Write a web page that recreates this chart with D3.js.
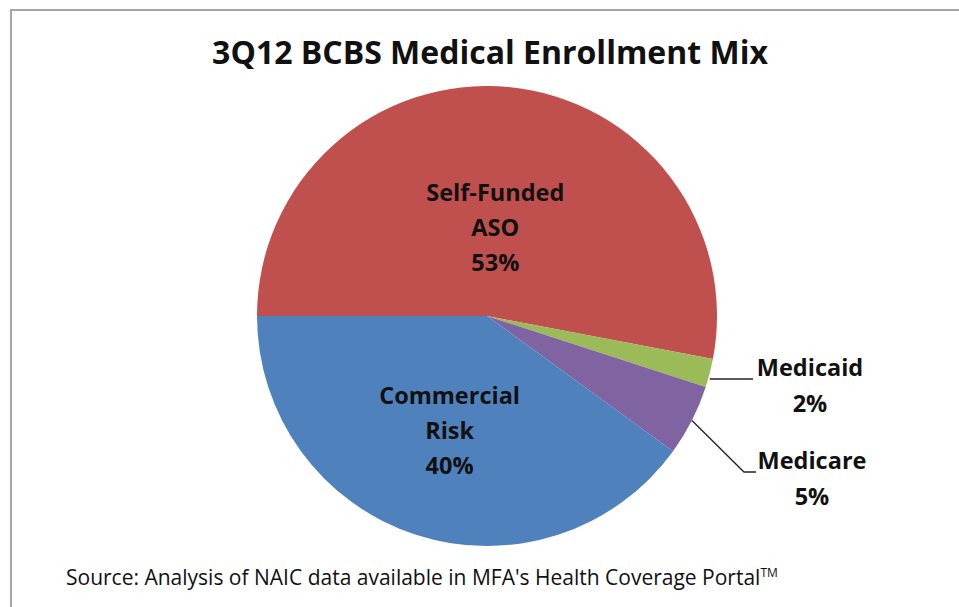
<!DOCTYPE html>
<html>
<head>
<meta charset="utf-8">
<script src="https://cdn.jsdelivr.net/npm/d3@7"></script>
<style>
  body { margin: 0; background: #fff; }
  text { font-family: "Open Sans", "Noto Sans", sans-serif; fill: #111; }
</style>
</head>
<body>
<svg id="chart" width="959" height="607"></svg>
<script>
// chart data
const categories = ["Self-Funded ASO", "Medicaid", "Medicare", "Commercial Risk"];
const labelLines = [["Self-Funded", "ASO"], ["Medicaid"], ["Medicare"], ["Commercial", "Risk"]];
const shares = [53, 2, 5, 40];
const colors = ["#C0504D", "#9BBB59", "#8064A2", "#4F81BD"];
const title = "3Q12 BCBS Medical Enrollment Mix";
const source = "Source: Analysis of NAIC data available in MFA's Health Coverage Portal";

let svg = d3.select("#chart");

// outer chart border
svg.append("rect")
    .attr("x", 11).attr("y", 10)
    .attr("width", 970).attr("height", 620)
    .attr("fill", "none")
    .attr("stroke", "#a6a6a6")
    .attr("stroke-width", 2);

svg.append("text")
    .attr("x", 490).attr("y", 64)
    .attr("text-anchor", "middle")
    .style("font-size", "32px")
    .style("font-weight", "bold")
    .text(title);

let cx = 487, cy = 316, radius = 230;

let data = categories.map((c, i) => ({name: c, lines: labelLines[i], value: shares[i], color: colors[i]}));

let pie = d3.pie()
    .sort(null)
    .value(d => d.value)
    .startAngle(-Math.PI / 2)
    .endAngle(1.5 * Math.PI);

let arc = d3.arc().innerRadius(0).outerRadius(radius);

let g = svg.append("g").attr("transform", "translate(" + cx + "," + cy + ")");

let arcs = pie(data);

g.selectAll("path")
    .data(arcs)
    .enter().append("path")
    .attr("d", arc)
    .attr("fill", d => d.data.color);

// labels inside the big slices
let insideRadius = {0: 88, 3: 121};
let lineH = 35;

arcs.forEach((a, i) => {
    let mid = (a.startAngle + a.endAngle) / 2;
    if (insideRadius[i] !== undefined) {
        let r = insideRadius[i];
        let x = Math.sin(mid) * r, y = -Math.cos(mid) * r;
        let lines = a.data.lines.concat([a.data.value + "%"]);
        let t = g.append("text")
            .attr("text-anchor", "middle")
            .style("font-size", "23.5px")
            .style("font-weight", "bold");
        lines.forEach((l, k) => {
            t.append("tspan")
                .attr("x", x)
                .attr("y", y + (k - (lines.length - 1) / 2) * lineH + 8)
                .text(l);
        });
    }
});

// outside labels with leader lines
let outside = [
    {i: 1, labelX: 323, labelY: 70, elbowX: 266},
    {i: 2, labelX: 325, labelY: 163, elbowX: 257}
];

outside.forEach(o => {
    let a = arcs[o.i];
    let mid = (a.startAngle + a.endAngle) / 2;
    let px = Math.sin(mid) * radius, py = -Math.cos(mid) * radius;
    let lineY = o.labelY - 7;
    let pts = o.i === 1
        ? [[px, lineY], [o.elbowX, lineY]]
        : [[px, py], [o.elbowX, lineY], [o.elbowX + 12, lineY]];
    g.append("path")
        .attr("d", d3.line()(pts))
        .attr("fill", "none")
        .attr("stroke", "#222")
        .attr("stroke-width", 1.3);
    let lines = a.data.lines.concat([a.data.value + "%"]);
    let t = g.append("text")
        .attr("text-anchor", "middle")
        .style("font-size", "23.5px")
        .style("font-weight", "bold");
    lines.forEach((l, k) => {
        t.append("tspan")
            .attr("x", o.labelX)
            .attr("y", o.labelY + (k - 0.5) * 36 + 8)
            .text(l);
    });
});

let src = svg.append("text")
    .attr("x", 66).attr("y", 585)
    .style("font-size", "21px")
    .text(source);
src.append("tspan")
    .attr("dy", -8)
    .style("font-size", "12px")
    .text("TM");
</script>
</body>
</html>
